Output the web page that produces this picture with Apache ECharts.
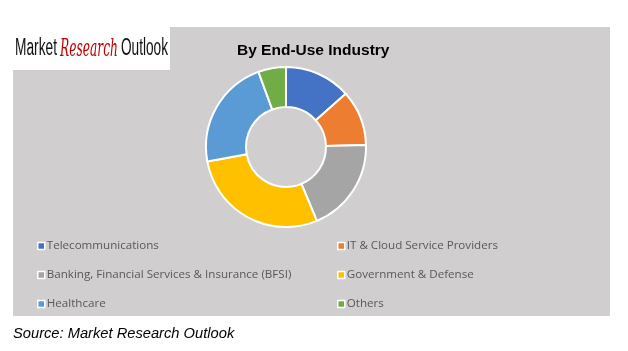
<!DOCTYPE html>
<html><head><meta charset="utf-8">
<script src="https://cdn.jsdelivr.net/npm/echarts@6/dist/echarts.min.js"></script>
<style>html,body{margin:0;padding:0;background:#fff}#c{width:628px;height:351px}</style>
</head><body><div id="c"></div>
<script>
const categories = ['Telecommunications','IT & Cloud Service Providers','Banking, Financial Services & Insurance (BFSI)','Government & Defense','Healthcare','Others'];
const values = [13.4, 11.2, 19.1, 28.4, 22.3, 5.6];
const colors = ['#4472c4','#ed7d31','#a5a5a5','#ffc000','#5b9bd5','#70ad47'];
const leftLegend = [categories[0], categories[2], categories[4]];
const rightLegend = [categories[1], categories[3], categories[5]];

const ctx = document.createElement('canvas').getContext('2d');
function fitScale(text, font, target){ ctx.font = font; return target / ctx.measureText(text).width; }
const fA = '23px "Liberation Sans", Arial, sans-serif';
const fB = 'italic 25px "DejaVu Serif", serif';
const logoParts = [
  {text:'Market', font:fA, x:15, w:42, fill:'#111111', family:'"Liberation Sans", Arial, sans-serif', size:23, style:'normal'},
  {text:'Research', font:fB, x:60, w:58, fill:'#c00000', family:'"DejaVu Serif", serif', size:25, style:'italic'},
  {text:'Outlook', font:fA, x:121, w:47, fill:'#111111', family:'"Liberation Sans", Arial, sans-serif', size:23, style:'normal'}
];

const chart = echarts.init(document.getElementById('c'), null, {renderer:'canvas'});
const legendBase = {
  orient:'vertical', top:234, itemWidth:7, itemHeight:7, itemGap:15,
  icon:'rect', selectedMode:false,
  itemStyle:{borderColor:'#ffffff', borderWidth:1.5},
  textStyle:{color:'#595959', fontSize:11.6, fontFamily:'Open Sans', lineHeight:14, padding:[0,0,0,-3]}
};
chart.setOption({
  animation:false,
  color: colors,
  graphic:[
    {type:'rect', silent:true, z:-10, shape:{x:13,y:27,width:597,height:289}, style:{fill:'#d0cece'}},
    {type:'rect', silent:true, z:-9, shape:{x:0,y:27,width:170,height:43}, style:{fill:'#ffffff'}}
  ].concat(logoParts.map(p=>({
    type:'text', silent:true, x:p.x, y:49, scaleX:fitScale(p.text, p.font, p.w), originX:0,
    style:{text:p.text, fontFamily:p.family, fontSize:p.size, fontStyle:p.style, fill:p.fill, verticalAlign:'middle', align:'left'}
  }))).concat([
    {type:'text', silent:true, left:13, top:326, style:{text:'Source: Market Research Outlook', fontFamily:'Arial, Liberation Sans', fontStyle:'italic', fontSize:14.7, fill:'#000000'}}
  ]),
  title:{text:'By End-Use Industry', left:232, top:38, textStyle:{fontFamily:'Arial, Liberation Sans', fontWeight:'bold', fontSize:15.5, color:'#000000'}},
  legend:[
    Object.assign({}, legendBase, {left:32, data:leftLegend}),
    Object.assign({}, legendBase, {left:332, data:rightLegend})
  ],
  series:[{
    type:'pie', center:[286,147], radius:[40,80], startAngle:90, clockwise:true,
    label:{show:false}, labelLine:{show:false}, emphasis:{disabled:true},
    itemStyle:{borderColor:'#ffffff', borderWidth:2},
    data: categories.map((n,i)=>({name:n, value:values[i]}))
  }]
});
</script></body></html>
